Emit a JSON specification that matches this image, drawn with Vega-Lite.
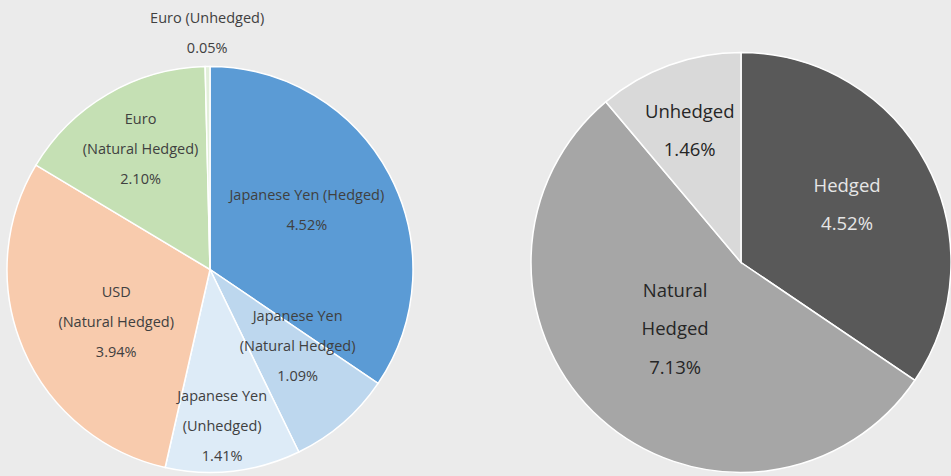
{
  "$schema": "https://vega.github.io/schema/vega-lite/v6.json",
  "background": "#ebebeb",
  "padding": 0,
  "spacing": 111,
  "bounds": "flush",
  "usermeta": {"embedOptions": {"actions": false}},
  "config": {"view": {"stroke": null}},
  "resolve": {"scale": {"color": "independent", "theta": "independent"}},
  "hconcat": [
    {
      "width": 420,
      "height": 476,
      "data": {"values": [
        {"name": "Japanese Yen (Hedged)", "label": "Japanese Yen (Hedged)\n4.52%", "value": 4.52, "ord": 1},
        {"name": "Japanese Yen (Natural Hedged)", "label": "Japanese Yen\n(Natural Hedged)\n1.09%", "value": 1.09, "ord": 2},
        {"name": "Japanese Yen (Unhedged)", "label": "Japanese Yen\n(Unhedged)\n1.41%", "value": 1.41, "ord": 3},
        {"name": "USD (Natural Hedged)", "label": "USD\n(Natural Hedged)\n3.94%", "value": 3.94, "ord": 4},
        {"name": "Euro (Natural Hedged)", "label": "Euro\n(Natural Hedged)\n2.10%", "value": 2.10, "ord": 5},
        {"name": "Euro (Unhedged)", "label": "Euro (Unhedged)\n0.05%", "value": 0.05, "ord": 6}
      ]},
      "transform": [
        {"stack": "value", "groupby": [], "sort": [{"field": "ord", "order": "ascending"}], "as": ["t0", "t1"]},
        {"calculate": "(datum.t0 + datum.t1) / 2", "as": "mid"}
      ],
      "layer": [
        {
          "mark": {"type": "arc", "radius": 203, "stroke": "white", "strokeWidth": 1.5, "yOffset": 31.5},
          "encoding": {
            "theta": {"field": "t0", "type": "quantitative", "scale": {"domain": [0, 13.11], "nice": false}},
            "theta2": {"field": "t1"},
            "color": {
              "field": "name", "type": "nominal", "legend": null,
              "scale": {
                "domain": ["Japanese Yen (Hedged)", "Japanese Yen (Natural Hedged)", "Japanese Yen (Unhedged)", "USD (Natural Hedged)", "Euro (Natural Hedged)", "Euro (Unhedged)"],
                "range": ["#5b9bd5", "#bdd7ee", "#ddebf7", "#f8cbad", "#c5e0b4", "#e2efda"]
              }
            }
          }
        },
        {
          "transform": [{"filter": "datum.ord === 1"}],
          "mark": {"type": "text", "radius": 113, "dx": -3, "dy": -20.5, "yOffset": 31.5, "font": "Open Sans", "fontSize": 14.5, "lineHeight": 30, "lineBreak": "\n", "color": "#404040"},
          "encoding": {"theta": {"field": "mid", "type": "quantitative", "scale": {"domain": [0, 13.11], "nice": false}}, "text": {"field": "label", "type": "nominal"}}
        },
        {
          "transform": [{"filter": "datum.ord === 2"}],
          "mark": {"type": "text", "radius": 117, "dx": 11, "dy": -41, "yOffset": 31.5, "font": "Open Sans", "fontSize": 14.5, "lineHeight": 30, "lineBreak": "\n", "color": "#404040"},
          "encoding": {"theta": {"field": "mid", "type": "quantitative", "scale": {"domain": [0, 13.11], "nice": false}}, "text": {"field": "label", "type": "nominal"}}
        },
        {
          "transform": [{"filter": "datum.ord === 3"}],
          "mark": {"type": "text", "radius": 158, "dx": -6, "dy": -29.5, "yOffset": 31.5, "font": "Open Sans", "fontSize": 14.5, "lineHeight": 30, "lineBreak": "\n", "color": "#404040"},
          "encoding": {"theta": {"field": "mid", "type": "quantitative", "scale": {"domain": [0, 13.11], "nice": false}}, "text": {"field": "label", "type": "nominal"}}
        },
        {
          "transform": [{"filter": "datum.ord === 4"}],
          "mark": {"type": "text", "radius": 108, "dx": 5.5, "dy": -19, "yOffset": 31.5, "font": "Open Sans", "fontSize": 14.5, "lineHeight": 30, "lineBreak": "\n", "color": "#404040"},
          "encoding": {"theta": {"field": "mid", "type": "quantitative", "scale": {"domain": [0, 13.11], "nice": false}}, "text": {"field": "label", "type": "nominal"}}
        },
        {
          "transform": [{"filter": "datum.ord === 5"}],
          "mark": {"type": "text", "radius": 138, "dx": 0, "dy": -30, "yOffset": 31.5, "font": "Open Sans", "fontSize": 14.5, "lineHeight": 30, "lineBreak": "\n", "color": "#404040"},
          "encoding": {"theta": {"field": "mid", "type": "quantitative", "scale": {"domain": [0, 13.11], "nice": false}}, "text": {"field": "label", "type": "nominal"}}
        },
        {
          "transform": [{"filter": "datum.ord === 6"}],
          "mark": {"type": "text", "radius": 235.5, "dx": 0, "dy": -15, "yOffset": 31.5, "font": "Open Sans", "fontSize": 14.5, "lineHeight": 30, "lineBreak": "\n", "color": "#404040"},
          "encoding": {"theta": {"field": "mid", "type": "quantitative", "scale": {"domain": [0, 13.11], "nice": false}}, "text": {"field": "label", "type": "nominal"}}
        }
      ]
    },
    {
      "width": 420,
      "height": 476,
      "data": {"values": [
        {"name": "Hedged", "label": "Hedged\n4.52%", "value": 4.52, "ord": 1},
        {"name": "Natural Hedged", "label": "Natural\nHedged\n7.13%", "value": 7.13, "ord": 2},
        {"name": "Unhedged", "label": "Unhedged\n1.46%", "value": 1.46, "ord": 3}
      ]},
      "transform": [
        {"stack": "value", "groupby": [], "sort": [{"field": "ord", "order": "ascending"}], "as": ["t0", "t1"]},
        {"calculate": "(datum.t0 + datum.t1) / 2", "as": "mid"}
      ],
      "layer": [
        {
          "mark": {"type": "arc", "radius": 210, "stroke": "white", "strokeWidth": 1.5, "yOffset": 24.5},
          "encoding": {
            "theta": {"field": "t0", "type": "quantitative", "scale": {"domain": [0, 13.11], "nice": false}},
            "theta2": {"field": "t1"},
            "color": {
              "field": "name", "type": "nominal", "legend": null,
              "scale": {
                "domain": ["Hedged", "Natural Hedged", "Unhedged"],
                "range": ["#595959", "#a6a6a6", "#d9d9d9"]
              }
            }
          }
        },
        {
          "transform": [{"filter": "datum.ord === 1"}],
          "mark": {"type": "text", "radius": 120.6, "dx": -0.5, "dy": -20.25, "yOffset": 24.5, "font": "Open Sans", "fontSize": 18.5, "lineHeight": 38.5, "lineBreak": "\n", "color": "#e6e6e6"},
          "encoding": {"theta": {"field": "mid", "type": "quantitative", "scale": {"domain": [0, 13.11], "nice": false}}, "text": {"field": "label", "type": "nominal"}}
        },
        {
          "transform": [{"filter": "datum.ord === 2"}],
          "mark": {"type": "text", "radius": 94, "dx": -3, "dy": -41.5, "yOffset": 24.5, "font": "Open Sans", "fontSize": 18.5, "lineHeight": 38.5, "lineBreak": "\n", "color": "#262626"},
          "encoding": {"theta": {"field": "mid", "type": "quantitative", "scale": {"domain": [0, 13.11], "nice": false}}, "text": {"field": "label", "type": "nominal"}}
        },
        {
          "transform": [{"filter": "datum.ord === 3"}],
          "mark": {"type": "text", "radius": 140.9, "dx": -3, "dy": -18.25, "yOffset": 24.5, "font": "Open Sans", "fontSize": 18.5, "lineHeight": 38.5, "lineBreak": "\n", "color": "#262626"},
          "encoding": {"theta": {"field": "mid", "type": "quantitative", "scale": {"domain": [0, 13.11], "nice": false}}, "text": {"field": "label", "type": "nominal"}}
        }
      ]
    }
  ]
}
